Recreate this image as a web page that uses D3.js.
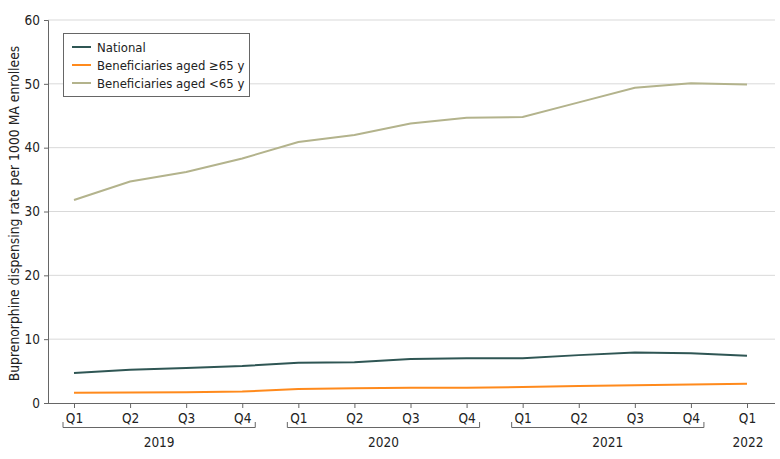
<!DOCTYPE html>
<html><head><meta charset="utf-8">
<script src="https://cdn.jsdelivr.net/npm/d3@7"></script>
<style>body{margin:0;background:#fff}svg{display:block}text{font-family:"DejaVu Sans Condensed","DejaVu Sans",sans-serif;fill:#222}</style>
</head><body><svg id="c" width="780" height="459"></svg>
<script>
const quarters = ["Q1","Q2","Q3","Q4","Q1","Q2","Q3","Q4","Q1","Q2","Q3","Q4","Q1"];
const years = [{label:"2019",from:0,to:3},{label:"2020",from:4,to:7},{label:"2021",from:8,to:11},{label:"2022",from:12,to:12}];
const national = [4.7,5.2,5.5,5.8,6.3,6.4,6.9,7.0,7.0,7.5,7.9,7.8,7.4];
const aged65plus = [1.6,1.65,1.7,1.8,2.2,2.3,2.4,2.4,2.5,2.65,2.8,2.9,3.0];
const agedUnder65 = [31.8,34.7,36.2,38.3,40.9,42.0,43.8,44.7,44.8,47.1,49.4,50.1,49.9];
const yTicks = [0,10,20,30,40,50,60];
const series = [
  {name:"National", values:national, color:"#2f5654"},
  {name:"Beneficiaries aged \u226565 y", values:aged65plus, color:"#ff8a1c"},
  {name:"Beneficiaries aged <65 y", values:agedUnder65, color:"#b3b38c"}
];
const svg = d3.select("#c");
const mLeft=48, mRight=775, mTop=20, mBottom=403;
const x = d3.scaleLinear().domain([0,12]).range([74,747]);
const y = d3.scaleLinear().domain([0,60]).range([mBottom,mTop]);
// grid
svg.append("g").selectAll("line").data(yTicks.filter(d=>d>0)).join("line")
  .attr("x1",mLeft).attr("x2",mRight).attr("y1",d=>y(d)).attr("y2",d=>y(d))
  .attr("stroke","#d9d9d9").attr("stroke-width",1);
// y axis
const ya = svg.append("g").attr("transform",`translate(${mLeft},0)`)
  .call(d3.axisLeft(y).tickValues(yTicks).tickSize(4).tickPadding(4));
ya.select(".domain").attr("stroke","#666");
ya.selectAll(".tick line").attr("stroke","#666");
ya.selectAll("text").attr("font-size",13.5).attr("fill","#222");
// x axis
const xa = svg.append("g").attr("transform",`translate(0,${mBottom})`)
  .call(d3.axisBottom(x).tickValues(d3.range(13)).tickFormat(i=>quarters[i]).tickSize(5).tickPadding(5).tickSizeOuter(0));
xa.select(".domain").attr("d",`M${mLeft},0.5H${mRight}`).attr("stroke","#666");
xa.selectAll(".tick line").attr("stroke","#666");
xa.selectAll("text").attr("font-size",13.5).attr("fill","#222");
// year brackets
const yb = svg.append("g");
years.forEach(g=>{
  if(g.to>g.from){
    const x0=x(g.from)-11, x1=x(g.to)+13;
    yb.append("path").attr("d",`M${x0},422V427.5H${x1}V422`).attr("fill","none").attr("stroke","#666");
  }
  yb.append("text").attr("x",(x(g.from)+x(g.to))/2+1).attr("y",447).attr("text-anchor","middle").attr("font-size",13.5).text(g.label);
});
// y title
svg.append("text").attr("transform",`translate(19,${(mTop+mBottom)/2+2}) rotate(-90)`).attr("text-anchor","middle")
  .attr("font-size",13.8).text("Buprenorphine dispensing rate per 1000 MA enrollees");
// lines
const line = d3.line().x((d,i)=>x(i)).y(d=>y(d));
svg.append("g").selectAll("path").data(series).join("path")
  .attr("d",d=>line(d.values)).attr("fill","none").attr("stroke",d=>d.color).attr("stroke-width",2);
// legend
const lg = svg.append("g");
lg.append("rect").attr("x",63.5).attr("y",33.5).attr("width",186).attr("height",63).attr("fill","#fff").attr("stroke","#666");
series.forEach((s,i)=>{
  const yy=47+i*18;
  lg.append("line").attr("x1",72).attr("x2",91).attr("y1",yy).attr("y2",yy).attr("stroke",s.color).attr("stroke-width",2);
  lg.append("text").attr("x",97).attr("y",yy+4.5).attr("font-size",13).text(s.name);
});
</script></body></html>
